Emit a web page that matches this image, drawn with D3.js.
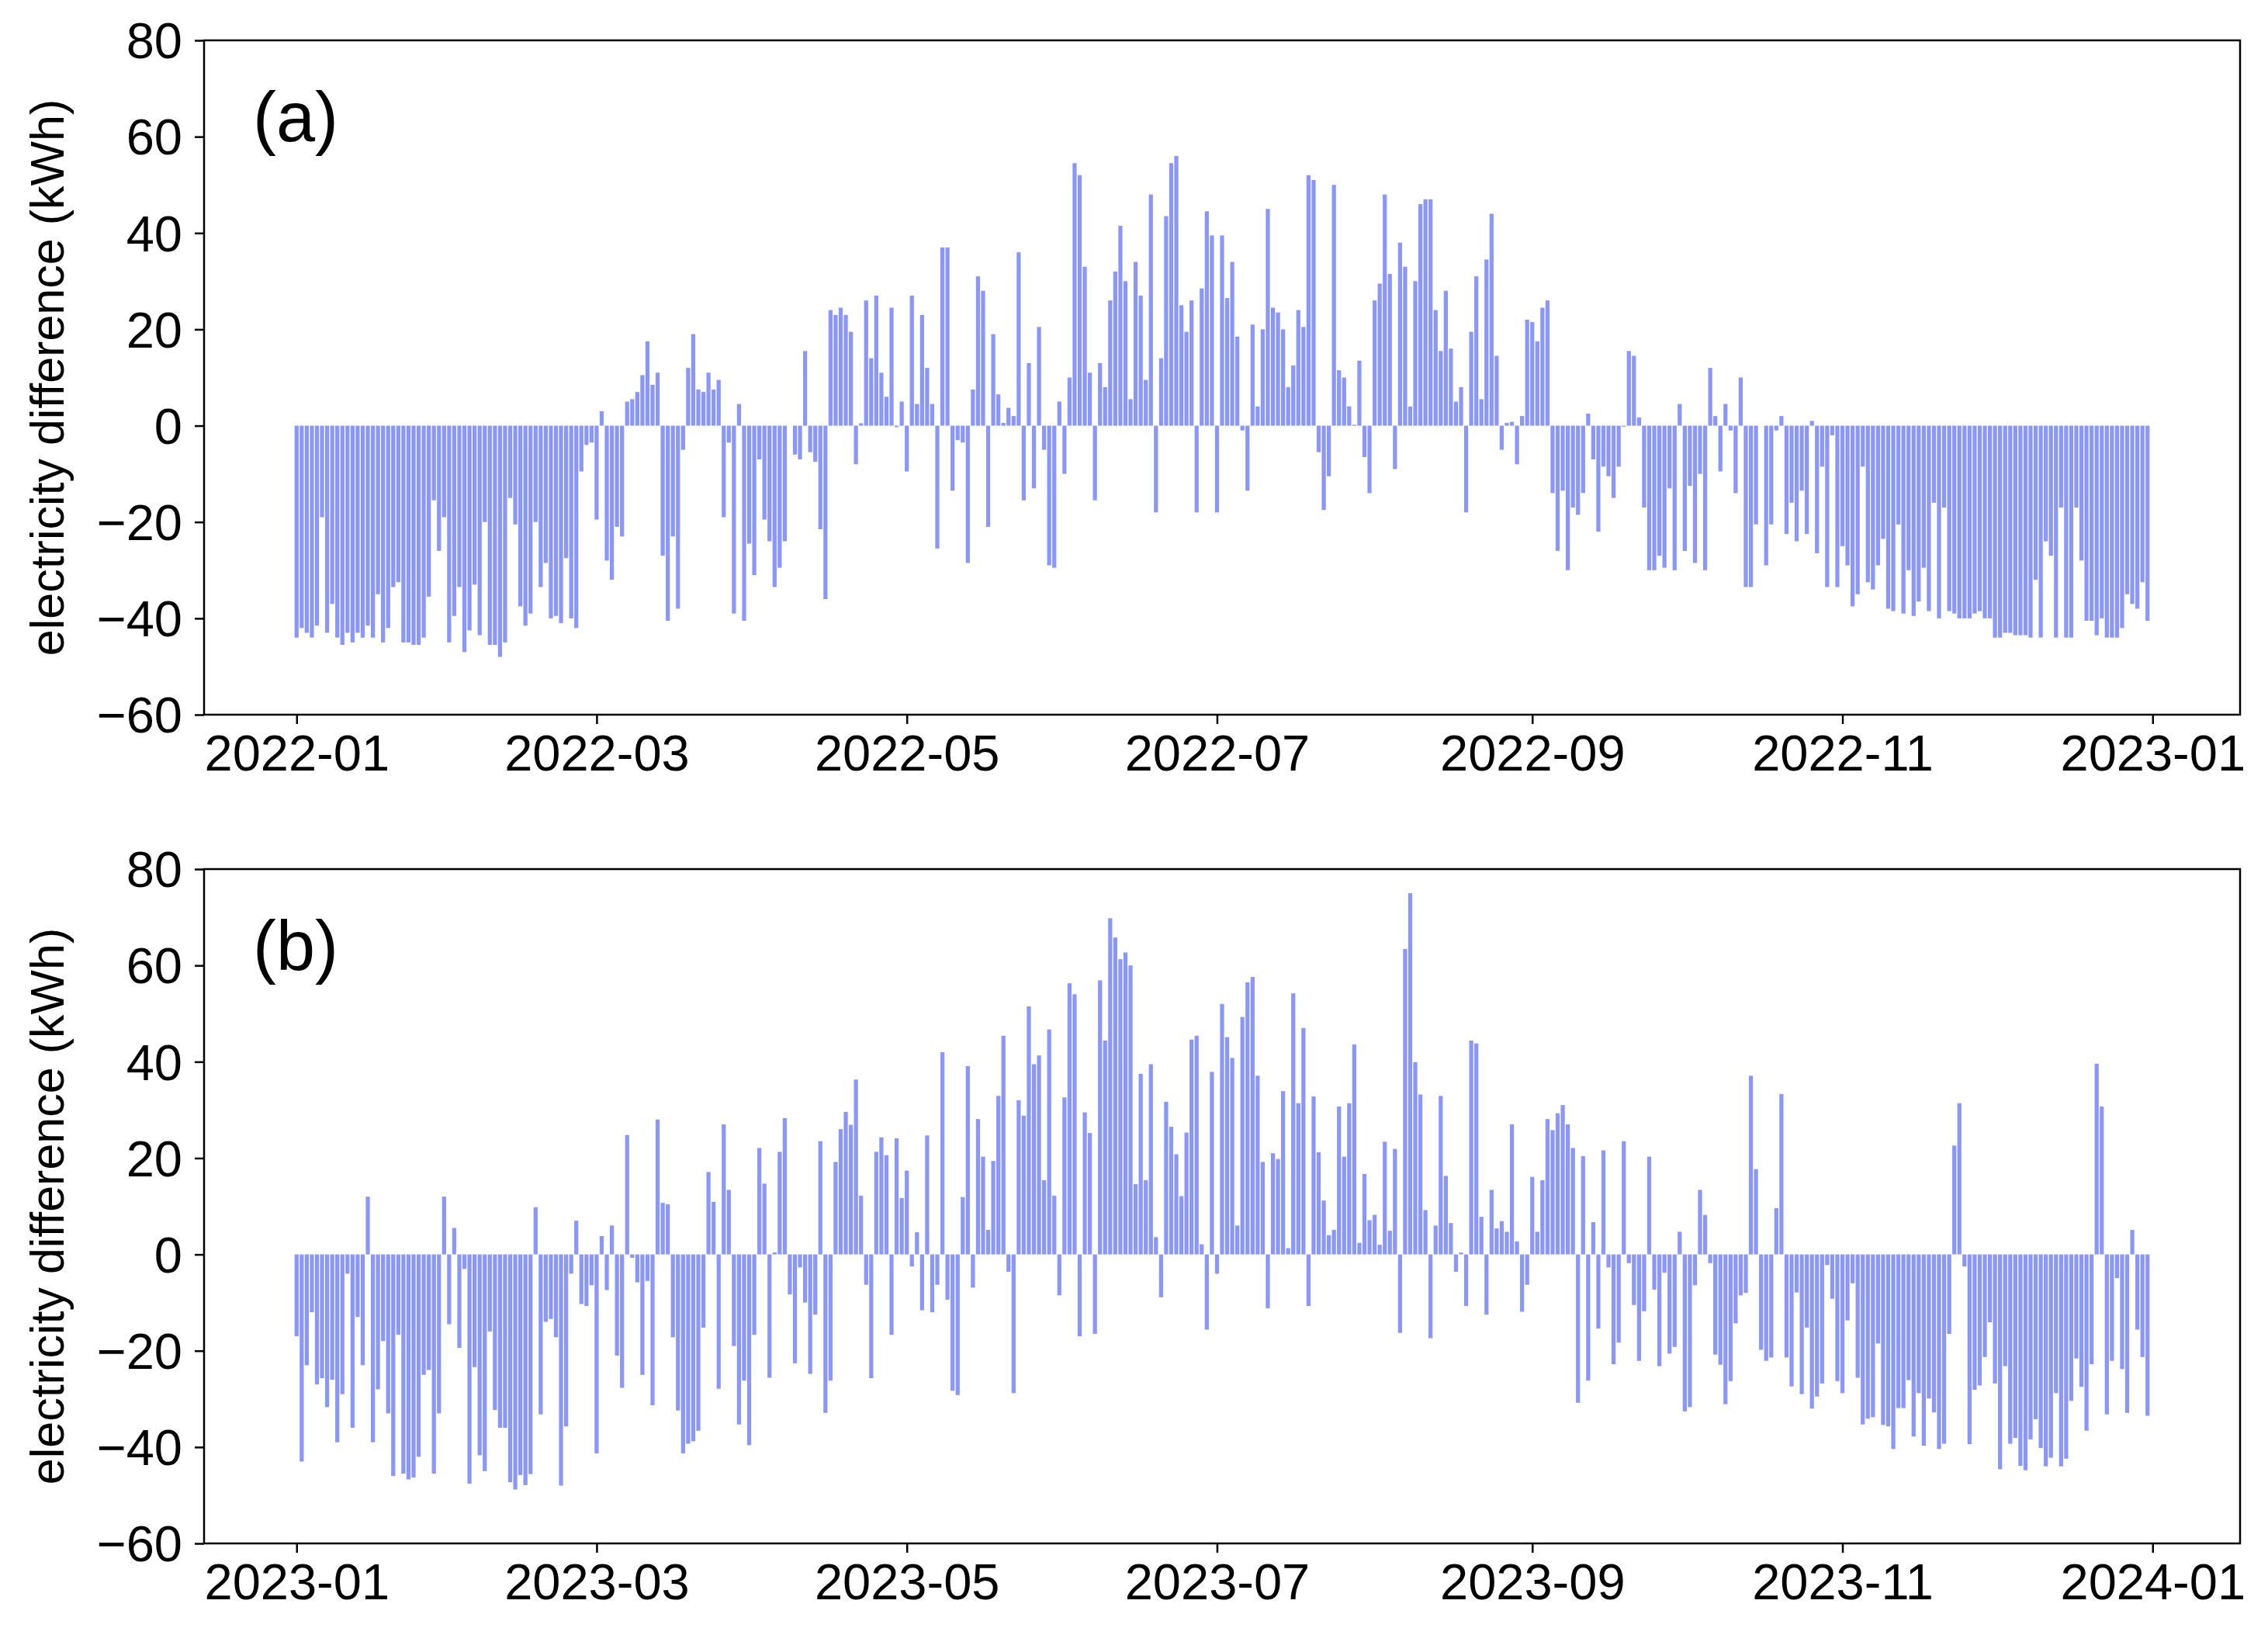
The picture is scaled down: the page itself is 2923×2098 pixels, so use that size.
<!DOCTYPE html>
<html>
<head>
<meta charset="utf-8">
<script src="https://cdn.jsdelivr.net/npm/d3@7"></script>
<style>
  body { margin: 0; background: #fff; }
  svg text { font-family: "Liberation Sans", Arial, sans-serif; fill: #000; }
</style>
</head>
<body>
<svg id="chart" width="2923" height="2098"></svg>
<script>
// daily electricity difference (kWh)
const values2022 = [
  -44,-42,-43,-44,-41.5,-19,-43,-37,-44,-45.5,
  -43,-45,-43,-44,-41.5,-44,-35,-45,-42,-33.5,
  -32.5,-45,-45,-45.5,-45.5,-44,-35.5,-15.5,-26,-19,
  -45,-39.5,-33.5,-47,-42.5,-33,-43.5,-20,-45.5,-45.5,
  -48,-45,-15,-20.5,-37.5,-41.5,-39,-20,-33.5,-28.5,
  -40,-39.5,-41,-27.5,-40,-42,-9.5,-4,-3.5,-19.5,
  3,-28,-32,-21,-23,5,5.5,7,10.5,17.5,
  8.5,11,-27,-40.5,-23,-38,-5,12,19,7.5,
  7,11,7.5,9.5,-19,-3.5,-39,4.5,-40.5,-24.5,
  -31,-7,-19.5,-24,-33.5,-29.5,-24,0,-6,
  -7,15.5,-5.5,-7.5,-21.5,-36,24,23,24.5,23,
  19.5,-8,0.5,26,14,27,11,6,24.5,-0.3,
  5,-9.5,27,4.5,23,12,4.5,-25.5,37,37,
  -13.5,-3,-3.5,-28.5,7.5,31,28,-21,19,6.5,
  0.6,3.7,2,36,-15.5,13,-13,20.5,-5,-29,
  -29.5,5,-10,10,54.5,52,33,11,-15.5,13,
  8,26,32,41.5,30,5.5,34,27,9.5,48,
  -18,14,43.5,54.5,56,25,19.5,26,-18,28.5,
  44.5,39.5,-18,39.5,26.5,34,18.5,-1,-13.5,21,
  4,20,45,24.5,23.5,20,8,12.5,24,
  20.5,52,51,-5.5,-17.5,-10.5,50,11.5,10,4,
  0.2,13.5,-6.5,-14,26,29.5,48,31.5,-9,38,
  33,4,30,46,47,47,24,15.5,28,16,
  5,8,-18,19.5,31,5.5,34.5,44,14.5,-5,
  0.6,0.8,-8,2,22,21.5,17.5,24.5,26,-14,
  -26,-13.5,-30,-17,-18.5,-14,2.5,-7,-22,-8.5,
  -10.5,-15,-8.5,-0.2,15.5,14.5,1.7,-17,-30,-30,
  -27,-29.5,-13,-30,4.5,-26,-12.5,-28.5,-10,-30,
  12,2,-9.5,4.5,-1,-14,10,-33.5,-33.5,-20.5,
  0,-29,-20.5,-1,2,-22.5,-16,-24,-13.5,-22.5,
  1,-26.5,-8.5,-33.5,-2,-33.5,-25,-29,-37.5,-35,
  -8.5,-32.5,-34,-29,-23.5,-38,-38.5,-20.5,-39,-30,
  -39.5,-36.5,-29.5,-38.5,-16,-40,-17,-38.5,-39,-40,
  -40,-40,-39,-38.5,-40,-40,-44,-44,-43,-43,
  -43.5,-43.5,-43.5,-44,-32,-44,-24,-27,-44,-17,
  -44,-44,-17,-28,-40.5,-40.5,-43.5,-40,-44,-44,
  -44,-42,-35,-37,-38,-32.5,-40.5
];

const values2023 = [
  -17,-43,-23,-12,-27,-25.7,-31.7,-26,-39,-29,
  -4,-36,-13,-23,12,-39,-28,-18,-33,-46,
  -16.7,-45.5,-46.7,-46.3,-42,-25,-24,-45.5,-33,12,
  -14.5,5.5,-19.4,-3,-47.6,-23.4,-41.7,-45,-16,-32.3,
  -36,-36,-47.3,-48.8,-45.8,-47.9,-45.6,9.8,-33.2,-14,
  -13.4,-17.2,-48,-35.7,-4,7,-10.3,-10.7,-6.4,-41.3,
  3.8,-7.4,6,-21,-27.7,24.8,-0.7,-5.8,-25,-5.5,
  -31.3,28,10.7,10.4,-17.2,-32.4,-41.3,-39.3,-38.8,-36.6,
  -15.2,17.1,10.9,-27.9,27,13.4,-19,-35.3,-26.2,-39.6,
  -16.7,22.1,14.7,-25.6,0.4,21.3,28.3,-8.3,-22.6,
  -2.7,-10,-24.8,-12.5,23.5,-32.9,-26.2,19.2,26,29.6,
  26.9,36.3,12.2,-6.3,-25.7,21.3,24.3,20.6,-16.7,24.1,
  11.7,17.4,-2.5,4.6,-11.6,24.7,-12,-6.3,42,-9.4,
  -28.3,-29.2,11.9,39.1,-6.9,28.1,20.3,5.1,19.4,32.9,
  45.4,-3.6,-28.8,32,28.8,51.5,39.5,41.3,15.4,46.7,
  12.2,-8.5,32.6,56.3,54,-17,29.5,25.2,-16.5,56.9,
  44.4,69.8,65.8,61.3,62.7,60,14.6,37.5,15.4,39.5,
  3.6,-8.9,31.7,26.5,20.8,12.1,25.3,44.6,45.4,2.1,
  -15.6,37.9,-4,52,45.1,40.8,6,49.3,56.5,57.6,
  37.1,19.2,-11.2,21,19.8,33.9,1.3,54.2,31.4,
  47,-10.7,32.8,21.2,11.2,4,5.1,30.7,20.3,31.4,
  43.6,2.4,16.7,7.1,8.2,2,23.4,4.9,21.9,-16.3,
  63.4,75,39.9,33.2,9.2,-17.4,6,32.9,16.3,6.5,
  -3.6,0.4,-10.7,44.4,43.8,7.8,-12.5,13.4,5.4,6.9,
  4.7,27,2.7,-11.9,-6.3,16.1,4.7,15.4,28.1,25.8,
  29.3,31,27,22.1,-30.8,20.4,-26.2,6.7,-15.4,21.6,
  -2.7,-22.8,-18.3,23.5,-1.8,-10.5,-22.1,-11.8,20.3,-7.3,
  -23.2,-3.8,-20.6,-19.2,4.7,-32.6,-31.7,-6.4,13.4,8.2,
  -1.8,-20.8,-22.9,-31.1,-26.3,-14.3,-8.5,-8,37.1,17.7,
  -19.8,-22.1,-21.4,9.6,33.3,-21.4,-27.4,-7.9,-29,-15.2,
  -32,-29.5,-26.8,-2.2,-9.2,-26.3,-28.8,-13.7,-6,-25.6,
  -35.3,-34.1,-33.8,-18.5,-35.4,-35.7,-40.4,-31.9,-31.9,-26.1,
  -37.8,-28.8,-39.7,-29.9,-32.8,-40.4,-39.3,-16.5,22.6,31.4,
  -2.5,-39.4,-28.1,-27.2,-21.3,-14.1,-26.8,-44.6,-23.2,-39.3,
  -38.1,-43.9,-44.8,-38.4,-34.2,-40.2,-44,-42.2,-28.8,-44,
  -42.4,-30.4,-21.6,-27.5,-36.6,-22.8,39.6,30.7,-33.2,-22.1,
  -4.9,-23.8,-32.9,5.1,-15.6,-21.3,-33.5
];

const panels = [
  { label: '(a)', year: 2022, values: values2022, top: 52, bottom: 921 },
  { label: '(b)', year: 2023, values: values2023, top: 1120, bottom: 1989 }
];
const yTicks = [-60, -40, -20, 0, 20, 40, 60, 80];

const left = 263, right = 2887;
const barColor = '#8a97f8';
const DAY = 864e5;

const svg = d3.select('#chart');

panels.forEach(p => {
  const start = new Date(p.year, 0, 1);
  const data = p.values.map((v, i) => ({ date: new Date(p.year, 0, 1 + i), value: v }));
  const last = data[data.length - 1].date;
  const pad = (last - start) * 0.05;

  const x = d3.scaleTime()
    .domain([new Date(+start - pad), new Date(+last + pad)])
    .range([left, right]);
  const y = d3.scaleLinear().domain([-60, 80]).range([p.bottom, p.top]);
  const barW = x(new Date(+start + 0.8 * DAY)) - x(start);

  const g = svg.append('g');

  g.append('g')
    .selectAll('rect')
    .data(data)
    .enter()
    .append('rect')
    .attr('x', d => x(d.date) - barW / 2)
    .attr('width', barW)
    .attr('y', d => y(Math.max(0, d.value)))
    .attr('height', d => Math.abs(y(d.value) - y(0)))
    .attr('fill', barColor);

  const xTicks = d3.range(0, 7).map(k => new Date(p.year, k * 2, 1));
  const xAxis = d3.axisBottom(x)
    .tickValues(xTicks)
    .tickFormat(d3.timeFormat('%Y-%m'))
    .tickSize(12)
    .tickPadding(14);
  const yAxis = d3.axisLeft(y).tickValues(yTicks).tickSize(12).tickPadding(16);

  const xa = g.append('g').attr('transform', 'translate(0,' + p.bottom + ')').call(xAxis);
  const ya = g.append('g').attr('transform', 'translate(' + left + ',0)').call(yAxis);
  [xa, ya].forEach(a => {
    a.select('.domain').remove();
    a.selectAll('line').attr('stroke', '#000').attr('stroke-width', 2.5);
    a.selectAll('text').style('font-size', '65px');
  });
  ya.selectAll('text').attr('dy', '0.35em');

  // frame
  g.append('rect')
    .attr('x', left).attr('y', p.top)
    .attr('width', right - left).attr('height', p.bottom - p.top)
    .attr('fill', 'none').attr('stroke', '#000').attr('stroke-width', 2.5);

  g.append('text')
    .attr('x', 326).attr('y', p.top + 130)
    .style('font-size', '90px')
    .text(p.label);

  g.append('text')
    .attr('transform', 'translate(82,' + (p.top + p.bottom) / 2 + ') rotate(-90)')
    .attr('text-anchor', 'middle')
    .style('font-size', '61px')
    .text('electricity difference (kWh)');
});
</script>
</body>
</html>
